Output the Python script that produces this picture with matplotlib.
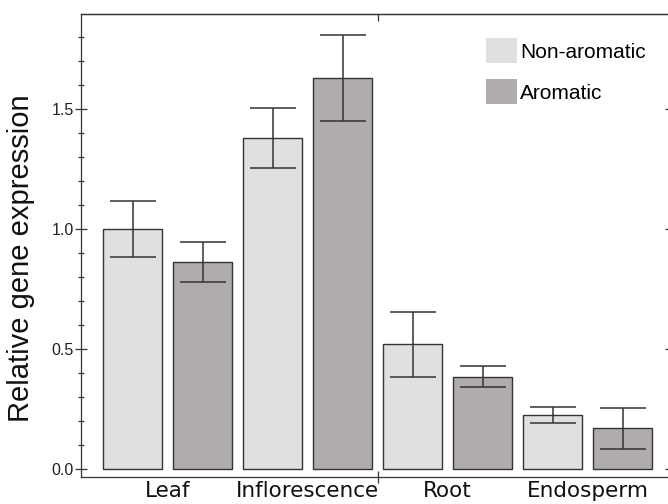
import matplotlib
matplotlib.use("Agg")
import matplotlib.pyplot as plt
import numpy as np
from matplotlib.patches import Patch

categories = ["Leaf", "Inflorescence", "Root", "Endosperm"]
series_names = ["Non-aromatic", "Aromatic"]
non_aromatic = [1.00, 1.38, 0.52, 0.225]
non_aromatic_err = [0.115, 0.125, 0.135, 0.033]
aromatic = [0.863, 1.63, 0.385, 0.17]
aromatic_err = [0.084, 0.18, 0.045, 0.085]
yticks = [0.0, 0.5, 1.0, 1.5]

W, H = 668, 504
fig = plt.figure(figsize=(W / 100, H / 100), dpi=100)
L, R, T, B = 81, 671, 14, 477
ax = fig.add_axes([L / W, 1 - B / H, (R - L) / W, (B - T) / H])

c_non = "#e0e0e0"
c_aro = "#b0acab"
edge = "#333333"

n = len(categories)
pos_non = np.arange(n) * 2
pos_aro = np.arange(n) * 2 + 1
width = 0.84
ekw = dict(ecolor="#333333", elinewidth=1.1, capsize=16.5, capthick=1.1)
ax.bar(pos_non, non_aromatic, width, color=c_non, edgecolor=edge, linewidth=1.0,
       yerr=non_aromatic_err, error_kw=ekw, zorder=2)
ax.bar(pos_aro, aromatic, width, color=c_aro, edgecolor=edge, linewidth=1.0,
       yerr=aromatic_err, error_kw=ekw, zorder=2)

ax.set_xlim(-0.736, 7.69)
ax.set_ylim(-0.033, 1.896)

for s in ax.spines.values():
    s.set_color("#333333")
    s.set_linewidth(0.9)

ax.set_yticks(yticks)
ax.set_yticklabels([f"{v:.1f}" for v in yticks], fontsize=11.5, color="#222222",
                   family="Liberation Sans")
ax.yaxis.set_minor_locator(matplotlib.ticker.MultipleLocator(0.1))
ax.tick_params(axis="y", which="major", direction="inout", length=8, width=0.9,
               color="#333333", right=True, pad=1)
ax.tick_params(axis="y", which="minor", direction="inout", length=4, width=0.9,
               color="#333333", right=False)

ax.set_xticks(np.arange(n) * 2 + 0.5)
ax.set_xticklabels(categories, fontsize=15.5, family="DejaVu Sans", color="#111111")
ax.tick_params(axis="x", which="major", length=0, pad=3)
ax.set_xticks([3.5], minor=True)
ax.tick_params(axis="x", which="minor", direction="inout", length=9, width=0.9,
               color="#333333")

sec = ax.secondary_xaxis("top")
sec.set_xticks([3.5])
sec.set_xticklabels([""])
sec.tick_params(direction="in", length=5, width=0.9, color="#333333")
sec.spines["top"].set_color("#333333")
sec.spines["top"].set_linewidth(0.9)

fig.text(21 / W, 1 - 258 / H, "Relative gene expression", rotation=90,
         ha="center", va="center", fontsize=21, family="Liberation Sans",
         color="#111111")

handles = [Patch(facecolor=c_non, edgecolor="none"),
           Patch(facecolor=c_aro, edgecolor="none")]
fig.legend(handles, series_names, loc="upper left",
           bbox_to_anchor=(486 / W, 1 - 38 / H), frameon=False, borderpad=0,
           borderaxespad=0, handlelength=1.5, handleheight=1.5,
           handletextpad=0.15, labelspacing=0.75,
           prop={"family": "Liberation Sans", "size": 15})

fig.savefig("out.png", dpi=100)
